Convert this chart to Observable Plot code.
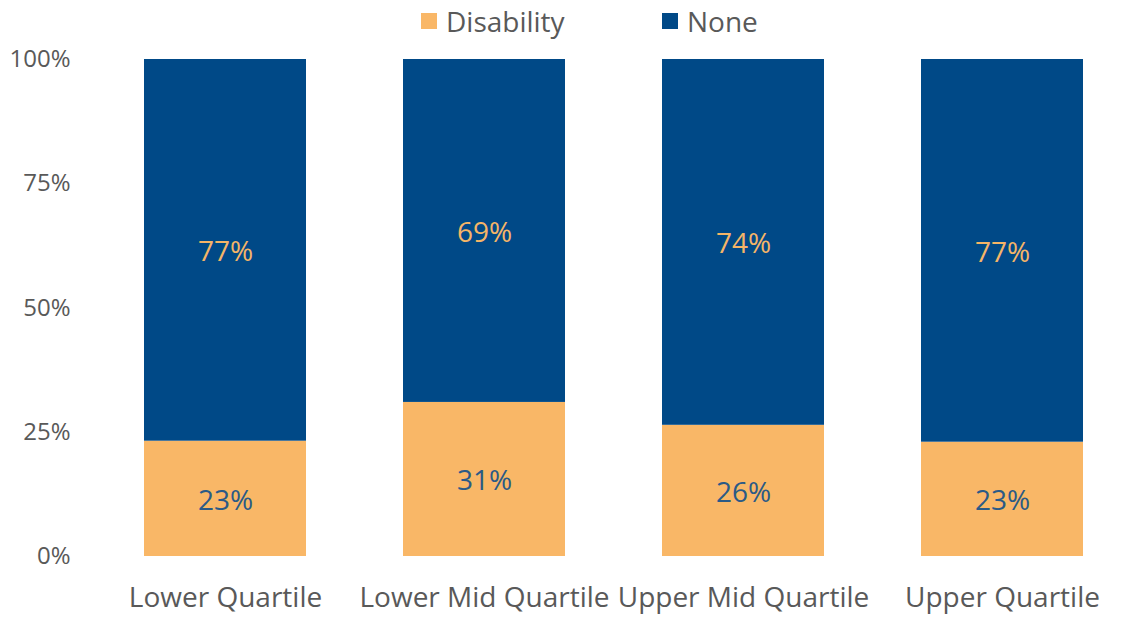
<!DOCTYPE html>
<html>
<head>
<meta charset="utf-8">
<script src="https://cdn.jsdelivr.net/npm/d3@7"></script>
<script src="https://cdn.jsdelivr.net/npm/@observablehq/plot@0.6"></script>
<style>
  html, body { margin: 0; padding: 0; background: #fff; }
  body { width: 1127px; height: 617px; overflow: hidden; font-family: "Open Sans", sans-serif; }
  #legend { height: 40px; position: relative; }
  .item { position: absolute; top: 1px; height: 40px; display: flex; align-items: center; font-size: 28px; color: #595959; }
  .sw { width: 16px; height: 16px; margin-right: 9px; }
</style>
</head>
<body>
<div id="legend"></div>
<div id="chart"></div>
<script>
const categories = ["Lower Quartile", "Lower Mid Quartile", "Upper Mid Quartile", "Upper Quartile"];
const seriesNames = ["Disability", "None"];
const disability = [23.2, 31.0, 26.4, 23.0];
const none = [76.8, 69.0, 73.6, 77.0];
const yTicks = [0, 25, 50, 75, 100];
const colors = ["#F9B767", "#004987"];
const labelColors = ["#2B5A86", "#F5B567"];

const data = [];
categories.forEach((c, i) => {
  data.push({category: c, series: "Disability", value: disability[i]});
  data.push({category: c, series: "None", value: none[i]});
});

// legend
const legend = document.getElementById("legend");
const legendX = [421, 662];
seriesNames.forEach((s, i) => {
  const d = document.createElement("div");
  d.className = "item";
  d.style.left = legendX[i] + "px";
  d.innerHTML = `<span class="sw" style="background:${colors[i]}"></span><span>${s}</span>`;
  legend.appendChild(d);
});

const chart = Plot.plot({
  width: 1127,
  height: 577,
  marginTop: 19,
  marginBottom: 61,
  marginLeft: 95,
  marginRight: 0,
  style: {fontFamily: "'Open Sans', sans-serif", background: "#fff"},
  x: {domain: categories, range: [95, 1133], paddingInner: 0.374, paddingOuter: 0.187, label: null},
  y: {domain: [0, 100], label: null},
  color: {domain: seriesNames, range: colors},
  marks: [
    Plot.gridY(yTicks, {stroke: "#d9d9d9", strokeOpacity: 1, strokeWidth: 2, x1: 95, x2: 1127}),
    Plot.barY(data, Plot.stackY({x: "category", y: "value", fill: "series", order: seriesNames})),
    Plot.text(data, Plot.stackY({
      x: "category", y: "value", z: "series", order: seriesNames,
      text: d => Math.round(d.value) + "%",
      fill: d => labelColors[seriesNames.indexOf(d.series)],
      fontSize: 28, dy: 2
    })),
    Plot.axisY(yTicks, {tickSize: 0, tickPadding: 0, dx: -25, tickFormat: d => d + "%", fontSize: 24, fill: "#595959"}),
    Plot.axisX({tickSize: 0, tickPadding: 31, fontSize: 28, fill: "#595959"})
  ]
});
document.getElementById("chart").appendChild(chart);
</script>
</body>
</html>
